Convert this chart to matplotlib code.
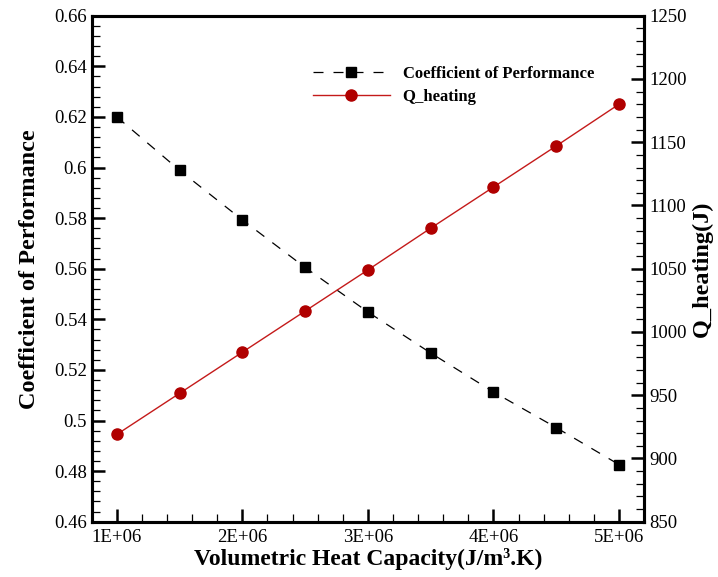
import matplotlib
matplotlib.use("Agg")
import matplotlib.pyplot as plt
from matplotlib.ticker import MultipleLocator, FuncFormatter

# data
heat_capacity = [1.0e6, 1.5e6, 2.0e6, 2.5e6, 3.0e6, 3.5e6, 4.0e6, 4.5e6, 5.0e6]
cop = [0.620, 0.5989, 0.5793, 0.5605, 0.5429, 0.5267, 0.5113, 0.4972, 0.4826]
q_heating = [919, 951.5, 984, 1016.5, 1049, 1082, 1114.5, 1147, 1180]

plt.rcParams["font.family"] = ["Liberation Serif", "DejaVu Serif"]


def style_ticks(ax):
    ax.tick_params(which="major", direction="in", length=9.5, width=1.8, labelsize=13.5)
    ax.tick_params(which="minor", direction="in", length=6, width=0.9)


def main():
    fig = plt.figure(figsize=(7.18, 5.77), dpi=100)
    ax = fig.add_axes([0.1277, 0.0958, 0.7693, 0.877])
    ax2 = ax.twinx()

    l1, = ax.plot(heat_capacity, cop, color="black", linewidth=0.9,
                  dashes=(8, 8), marker="s", markersize=6.5,
                  label="Coefficient of Performance")
    l2, = ax2.plot(heat_capacity, q_heating, color="#c41a1a", linewidth=1.0,
                   marker="o", markersize=8, markerfacecolor="#b00000",
                   markeredgecolor="#b00000", label="Q_heating")

    ax.set_xlim(0.8e6, 5.2e6)
    ax.set_ylim(0.46, 0.66)
    ax2.set_ylim(850, 1250)

    ax.xaxis.set_major_locator(MultipleLocator(1e6))
    ax.xaxis.set_minor_locator(MultipleLocator(0.2e6))
    ax.xaxis.set_major_formatter(FuncFormatter(lambda v, p: "%dE+06" % round(v / 1e6)))
    ax.yaxis.set_major_locator(MultipleLocator(0.02))
    ax.yaxis.set_minor_locator(MultipleLocator(0.004))
    ax.yaxis.set_major_formatter(FuncFormatter(lambda v, p: ("%.2f" % v).rstrip("0")))
    ax2.yaxis.set_major_locator(MultipleLocator(50))
    ax2.yaxis.set_minor_locator(MultipleLocator(10))

    style_ticks(ax)
    style_ticks(ax2)
    ax.tick_params(axis="x", pad=5)

    for a in (ax, ax2):
        for s in a.spines.values():
            s.set_linewidth(2.2)

    ax.set_xlabel("Volumetric Heat Capacity(J/m\u00b3.K)",
                  fontsize=17, fontweight="bold", labelpad=2)
    ax.set_ylabel("Coefficient of Performance", fontsize=17.5, fontweight="bold", labelpad=10)
    ax2.set_ylabel("Q_heating(J)", fontsize=17.5, fontweight="bold", rotation=90, labelpad=4)

    fig.legend(handles=[l1, l2], loc="upper left", bbox_to_anchor=(0.436, 0.886),
               frameon=False, borderpad=0, borderaxespad=0, handlelength=4.6,
               handletextpad=0.78, labelspacing=0.42,
               prop={"weight": "bold", "size": 12})

    fig.savefig("out.png", dpi=100)


if __name__ == "__main__":
    main()
